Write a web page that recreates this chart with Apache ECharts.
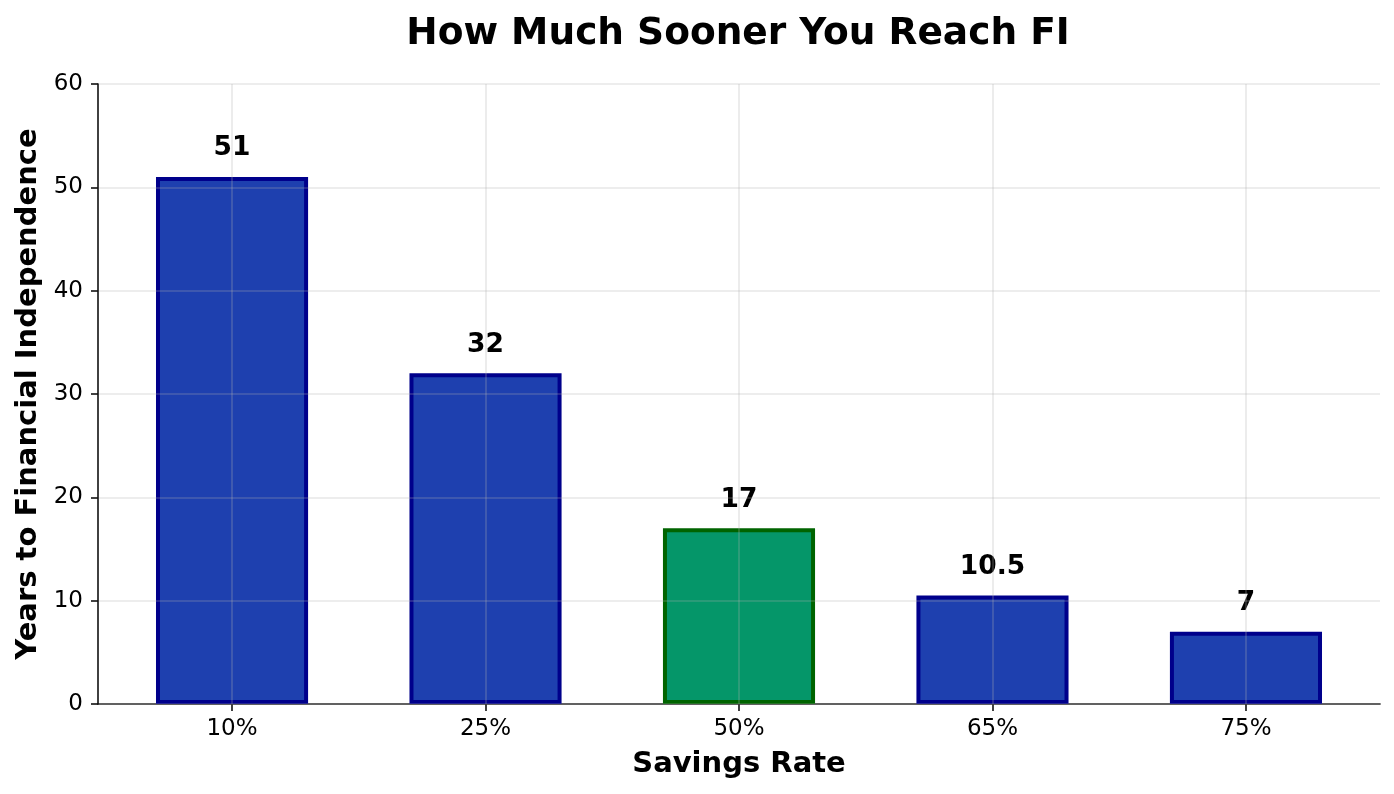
<!DOCTYPE html>
<html>
<head>
<meta charset="utf-8">
<script src="https://cdn.jsdelivr.net/npm/echarts@6/dist/echarts.min.js"></script>
<style>
  html, body { margin: 0; padding: 0; background: #fff; }
  #chart { width: 1394px; height: 794px; }
</style>
</head>
<body>
<div id="chart"></div>
<script>
  // data
  var categories = ['10%', '25%', '50%', '65%', '75%'];
  var years = [51, 32, 17, 10.5, 7];
  var highlight = '50%';
  var yTicks = [0, 10, 20, 30, 40, 50, 60];

  var FONT = 'DejaVu Sans';
  var gridLine = 'rgba(176,176,176,0.3)';
  var axisColor = '#111';

  document.addEventListener('DOMContentLoaded', function () {
    var chart = echarts.init(document.getElementById('chart'), null, { renderer: 'canvas' });

    var barData = years.map(function (v, i) {
      var hl = categories[i] === highlight;
      return {
        value: v,
        itemStyle: {
          color: hl ? '#059669' : '#1e40af',
          borderColor: hl ? '#006400' : '#00008b'
        }
      };
    });

    chart.setOption({
      animation: false,
      textStyle: { fontFamily: FONT },
      title: {
        text: 'How Much Sooner You Reach FI',
        left: 733, top: 10, textAlign: 'center',
        textStyle: { fontFamily: FONT, fontSize: 37.5, fontWeight: 'bold', color: '#000' }
      },
      grid: [
        // bars: matplotlib pads the category range a little, so this grid is narrower
        { left: 105.3, right: 21.3, top: 84, bottom: 90 },
        // frame: axis lines, y ticks and horizontal grid
        { left: 98, right: 14, top: 84, bottom: 90 }
      ],
      xAxis: [
        {
          gridIndex: 0, type: 'category', data: categories,
          axisLine: { show: false },
          axisTick: { show: true, alignWithLabel: true, length: 7, lineStyle: { color: axisColor, width: 1.6 } },
          axisLabel: { fontSize: 23, color: '#000', margin: 14, fontFamily: FONT },
          splitLine: { show: false },
          name: 'Savings Rate', nameLocation: 'middle', nameGap: 46,
          nameTextStyle: { fontFamily: FONT, fontSize: 29, fontWeight: 'bold', color: '#000' }
        },
        {
          gridIndex: 1, type: 'value', min: 0, max: 1,
          axisLine: { show: true, lineStyle: { color: axisColor, width: 1.6 } },
          axisTick: { show: false }, axisLabel: { show: false }, splitLine: { show: false }
        }
      ],
      yAxis: [
        { gridIndex: 0, type: 'value', min: 0, max: 60, show: false },
        {
          gridIndex: 1, type: 'value', min: yTicks[0], max: yTicks[yTicks.length - 1], interval: 10,
          z: 5,
          axisLine: { show: true, lineStyle: { color: axisColor, width: 1.6 } },
          axisTick: { show: true, length: 7, lineStyle: { color: axisColor, width: 1.6 } },
          axisLabel: { fontSize: 23, color: '#000', margin: 15, fontFamily: FONT },
          splitLine: { show: true, lineStyle: { color: gridLine, width: 1.6 } },
          name: 'Years to Financial Independence', nameLocation: 'middle', nameGap: 55,
          nameTextStyle: { fontFamily: FONT, fontSize: 29, fontWeight: 'bold', color: '#000' }
        }
      ],
      series: [{
        type: 'bar',
        xAxisIndex: 0, yAxisIndex: 0,
        barWidth: '60%',
        data: barData,
        itemStyle: { borderWidth: 4 },
        label: {
          show: true, position: 'top', distance: 15,
          fontFamily: FONT, fontSize: 26.5, fontWeight: 'bold', color: '#000'
        },
        markLine: {
          silent: true, symbol: 'none', animation: false,
          label: { show: false },
          lineStyle: { color: gridLine, type: 'solid', width: 1.6 },
          data: categories.map(function (c) { return { xAxis: c }; })
        }
      }]
    });
  });
</script>
</body>
</html>
